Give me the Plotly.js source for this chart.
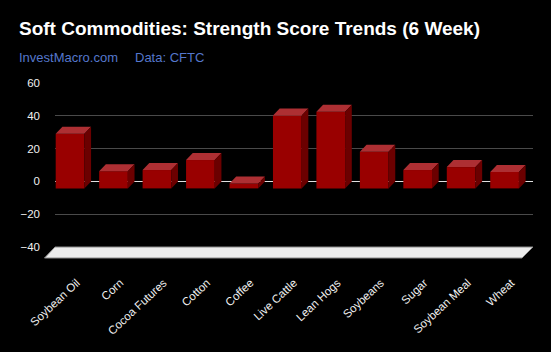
<!DOCTYPE html>
<html>
<head>
<meta charset="utf-8">
<script src="https://cdn.plot.ly/plotly-3.0.1.min.js"></script>
<style>html,body{margin:0;padding:0;background:#000;}#chart{width:551px;height:352px;}</style>
</head>
<body>
<div id="chart"></div>
<script>
var categories = ["Soybean Oil","Corn","Cocoa Futures","Cotton","Coffee","Live Cattle","Lean Hogs","Soybeans","Sugar","Soybean Meal","Wheat"];
var scores = [33.3, 10.5, 11.2, 17.3, 3, 44.4, 46.8, 22.3, 11.2, 13, 10];
var yTicks = [-40, -20, 0, 20, 40, 60];

// 3D styling parameters (in axis units)
var DX = 0.154;   // depth offset in x (categories)
var DY = 4.27;    // depth offset in y (score units)
var W = 0.66;     // bar width
var idx = categories.map(function(_, i){ return i; });

var frontX = idx.map(function(i){ return i - DX; });
var topX = [], topY = [], sideX = [], sideY = [];
idx.forEach(function(i){
  var v = scores[i];
  var xl = i - DX - W/2, xr = i - DX + W/2, ft = v - DY;
  topX.push(xl, xr, xr + DX, xl + DX, xl, null);
  topY.push(ft, ft, v, v, ft, null);
  sideX.push(xr, xr, xr + DX, xr + DX, xr, null);
  sideY.push(-DY, ft, v, 0, -DY, null);
});

var traces = [
  {type:"bar", x: frontX, y: scores, base: -DY, width: W,
   marker:{color:"#990000", line:{width:0}}, hoverinfo:"skip", showlegend:false},
  {type:"scatter", mode:"lines", x: topX, y: topY, fill:"toself", fillcolor:"#ad2f33",
   line:{width:0, color:"#ad2f33"}, hoverinfo:"skip", showlegend:false},
  {type:"scatter", mode:"lines", x: sideX, y: sideY, fill:"toself", fillcolor:"#6b0000",
   line:{width:0, color:"#6b0000"}, hoverinfo:"skip", showlegend:false}
];

var layout = {
  width: 551, height: 352,
  paper_bgcolor: "#000", plot_bgcolor: "#000",
  margin: {l:55, r:18, t:83, b:105},
  font: {family:"Liberation Sans, Arial, sans-serif", color:"#fff"},
  barmode: "overlay",
  showlegend: false,
  xaxis: {
    range: [-0.5, 10.5], tickvals: idx, ticktext: categories, tickangle: -43,
    showgrid:false, zeroline:false, showline:false, ticks:"", ticklabelstandoff: 26,
    tickfont:{size:11.5, color:"#f0f0f0"}, fixedrange:true
  },
  yaxis: {
    range: [-40, 60], tickvals: yTicks, showgrid:true, gridcolor:"#4a4a4a", gridwidth:1,
    zeroline:true, zerolinecolor:"#e0e0e0", zerolinewidth:1, showline:false, ticks:"",
    ticklabelstandoff: 14, tickfont:{size:11.5, color:"#f0f0f0"}, fixedrange:true
  },
  shapes: [
    {type:"path", xref:"paper", yref:"paper", layer:"above",
     path:"M 0 0 L 1 0 L " + (1 - 11/478) + " " + (-11/164) + " L " + (-10.5/478) + " " + (-11/164) + " Z",
     fillcolor:"#ececec", line:{color:"#8a8a8a", width:1}}
  ],
  annotations: [
    {xref:"paper", yref:"paper", x: -38/478, y: 1 + 54/164, xanchor:"left", yanchor:"middle",
     text:"<b>Soft Commodities: Strength Score Trends (6 Week)</b>", showarrow:false,
     font:{size:19, color:"#ffffff"}},
    {xref:"paper", yref:"paper", x: -38/478, y: 1 + 26/164, xanchor:"left", yanchor:"middle",
     text:"InvestMacro.com", showarrow:false, font:{size:13, color:"#5577cc"}},
    {xref:"paper", yref:"paper", x: 78/478, y: 1 + 26/164, xanchor:"left", yanchor:"middle",
     text:"Data: CFTC", showarrow:false, font:{size:13, color:"#5577cc"}}
  ]
};

Plotly.newPlot("chart", traces, layout, {displayModeBar:false, staticPlot:true});
</script>
</body>
</html>
